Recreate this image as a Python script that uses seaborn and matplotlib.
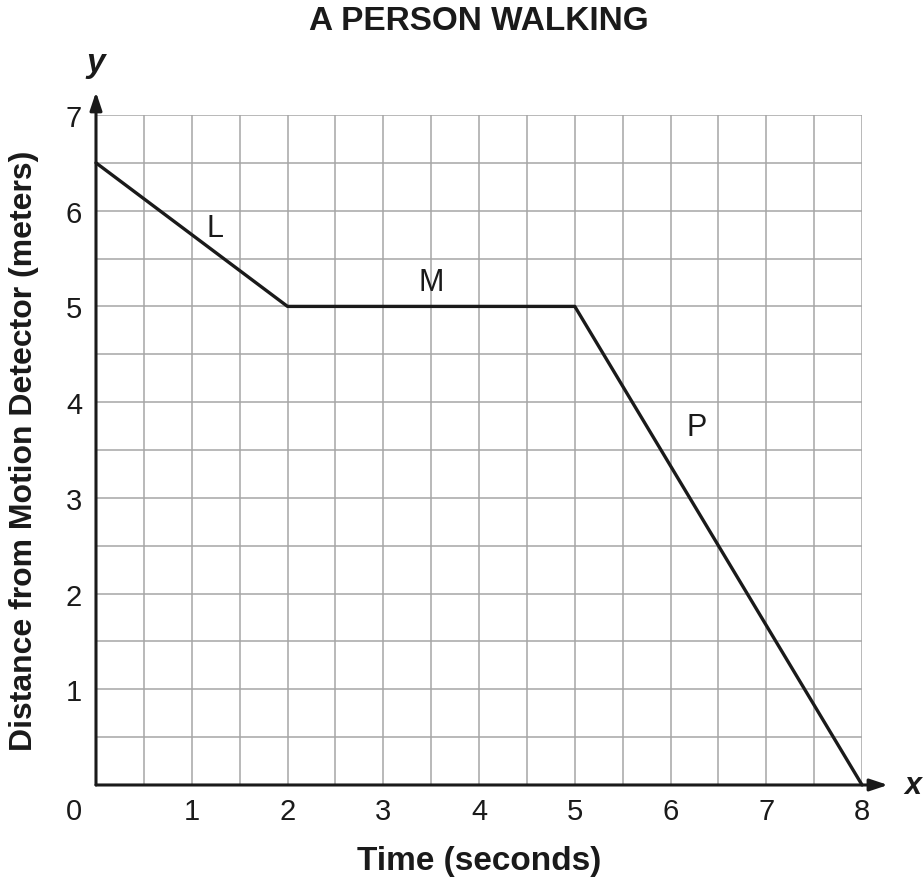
import matplotlib
matplotlib.use("Agg")
import matplotlib.pyplot as plt
import matplotlib.transforms as mtransforms
import numpy as np
import pandas as pd
import seaborn as sns

# data
time_s = [0, 2, 5, 8]
distance_m = [6.5, 5, 5, 0]
segment_names = ["L", "M", "P"]
x_ticks = [0, 1, 2, 3, 4, 5, 6, 7, 8]
y_ticks = [1, 2, 3, 4, 5, 6, 7]

sns.set_theme(style="white")
plt.rcParams["font.family"] = ["Liberation Sans", "DejaVu Sans"]

INK = "#1a1a1a"
df = pd.DataFrame({"time": time_s, "distance": distance_m})

fig = plt.figure(figsize=(9.23, 8.78), dpi=100)
ax = fig.add_axes([0.104, 0.1048, 0.830, 0.7631])

# grid every half unit
for gx in np.arange(0.5, 8.01, 0.5):
    ax.axvline(gx, color="#a6a6a6", lw=1.1, zorder=1)
for gy in np.arange(0.5, 7.01, 0.5):
    ax.axhline(gy, color="#a6a6a6", lw=1.1, zorder=1)

sns.lineplot(data=df, x="time", y="distance", color=INK, lw=2.4,
             ax=ax, zorder=3, clip_on=False)

ax.set_xlim(0, 8)
ax.set_ylim(0, 7)
for s in ax.spines.values():
    s.set_visible(False)

# axes with arrows
arrow = dict(arrowstyle="-|>,head_length=0.9,head_width=0.3", color=INK, lw=2.2,
             shrinkA=0, shrinkB=0)
ax.annotate("", xy=(8.27, 0), xytext=(0, 0), arrowprops=arrow,
            annotation_clip=False, zorder=4)
ax.annotate("", xy=(0, 7.24), xytext=(0, 0), arrowprops=arrow,
            annotation_clip=False, zorder=4)

ax.set_xticks(x_ticks)
ax.set_yticks(y_ticks)
ax.set_xticklabels([str(t) for t in x_ticks], fontsize=21, color=INK)
ax.set_yticklabels([str(t) for t in y_ticks], fontsize=21, color=INK)
ax.tick_params(axis="x", length=0, pad=9)
ax.tick_params(axis="y", length=0, pad=10)
zero = ax.get_xticklabels()[0]
zero.set_transform(zero.get_transform()
                   + mtransforms.ScaledTranslation(-22 / 100, 0, fig.dpi_scale_trans))

# segment labels
for name, (lx, ly) in zip(segment_names, [(1.24, 5.82), (3.5, 5.25), (6.27, 3.74)]):
    ax.text(lx, ly, name, fontsize=22, ha="center", va="center", color=INK, zorder=5)

ax.text(0, 7.55, "y", fontsize=24, fontweight="bold", style="italic",
        ha="center", va="center", color=INK)
ax.text(8.44, 0, "x", fontsize=22, fontweight="bold", style="italic",
        ha="left", va="center", color=INK)

ax.set_xlabel("Time (seconds)", fontsize=24, fontweight="bold", color=INK)
ax.xaxis.label.set_va("center")
ax.xaxis.set_label_coords(0.5, -0.112)
ax.set_ylabel("Distance from Motion Detector (meters)", fontsize=23, fontweight="bold",
              color=INK)
ax.yaxis.label.set_va("center")
ax.yaxis.set_label_coords(-0.094, 0.5)
fig.text(0.519, 1 - 22 / 878, "A PERSON WALKING", fontsize=24, fontweight="bold",
         ha="center", va="center", color=INK)

fig.savefig("out.png", dpi=100, facecolor="white")
